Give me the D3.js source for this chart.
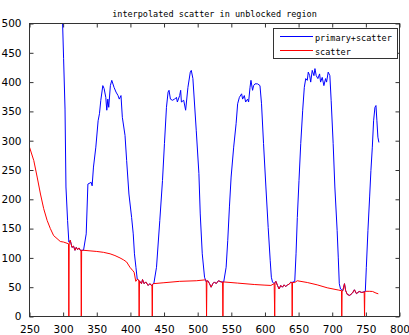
<!DOCTYPE html>
<html><head><meta charset="utf-8">
<script src="https://cdn.jsdelivr.net/npm/d3@7"></script>
<style>
html,body{margin:0;padding:0;background:#fff;}
svg{display:block;}
</style>
</head><body>
<svg id="chart" width="409" height="335"></svg>
<script>
// ---- data ----
const titleText = "interpolated scatter in unblocked region";
const seriesNames = ["primary+scatter", "scatter"];
const seriesColors = ["#0000ff", "#ff0000"];
const xTicks = [250,300,350,400,450,500,550,600,650,700,750,800];
const yTicks = [0,50,100,150,200,250,300,350,400,450,500];

const primaryX = [298.5,299.2,300.7,302.8,304.2,306.6,308.5,
 310.6,313.1,315.5,317.6,319.5,321.5,323.5,325.5,328.4,
 330.3,334.3,336.8,341.7,343.1,345.1,348.6,352,354,356,359,360.9,363.4,364.9,366.4,367.8,370.2,372.3,375.7,378.6,381.6,383.5,386,388,392,394.4,397.8,401.8,404.2,406,408.2,410.1,
 413,416.5,418,420.4,422.8,426.4,428.9,431.3,433.8,
 434.8,438.8,443.7,447.7,450.6,453.6,456,457.4,459.5,462.4,465.8,468.4,469.8,473.2,474.7,475.8,479.2,482.1,485.5,489,490.5,492.9,497.9,501.8,503.8,506.8,510.2,512.7,
 515.1,517.6,520,522.5,525,527.4,530.9,534.8,537,
 538.7,542.3,544.7,547.2,549.7,553.5,557.1,559.4,562,565.3,566.8,569.3,571.3,574.2,575.7,577.8,579.2,581.6,583.1,585.2,589,592.6,594.9,597.9,601.4,604.8,607.8,609.5,611.2,613.7,
 616.2,618.6,621,623.5,626,628.5,630.9,633.4,635.9,638.3,640,
 644.3,646.2,648.1,650.6,653.2,656.1,658.5,660.6,662.9,664.4,666.5,668,670.3,672.8,674.3,676.2,678.7,681.2,682.7,685.1,687.6,690.1,691.6,694,696.5,698.4,701.4,703.9,707.3,709,710.5,712.3,
 715.7,718.2,720,722.5,726,730,733,736,740,744,747,
 749.2,750.7,753.1,755.6,757.5,759.6,761.5,763.5,765,766.4,767.9,769.4];
const primaryY = [520,500,440,354,221,164,127,
 130,118,120,113,118,114,117,113,113,
 113,141,226,229,223,255,289,334,346,369,394,389,374,352,371,357,394,403,391,383,377,371,377,340,309,266,209,169,141,107,84,64,
 61,56,63,56,59,53,56,53,56,
 56,84,164,232,295,357,383,386,371,369,371,374,366,377,386,366,369,352,391,417,420,406,317,244,175,107,67,59,
 61,56,50,56,59,56,61,59,59,
 59,84,130,187,238,289,329,363,374,380,371,377,366,371,366,391,403,386,394,397,397,394,363,295,221,152,96,67,59,56,
 60,53,47,53,50,54,51,54,55,58.6,58,
 60,107,169,232,295,352,391,406,403,417,411,400,420,411,423,411,406,414,400,408,394,406,400,417,411,369,295,221,147,100,56,47,
 44,56,44,37.5,36,40,45.6,39,42.7,41,42,
 43,84,147,204,249,289,334,357,360,334,306,297];

const scatterX = [250,256.4,261.4,266.3,271.1,276.2,281,285.9,290.9,295.8,300.7,305.7,308,308.5,309,
 310.6,313.1,315.5,317.6,319.5,321.5,323.5,325.5,326.5,327,327.5,330.3,340,350,360,369.8,377,384.5,390,394.4,399.3,403,405.5,408,410.6,412.5,413,413.5,
 416.5,418,420.4,422.8,426.4,428.9,431.3,432,432.5,433,433.8,448.6,473.2,497.9,511.7,512.7,513.2,513.7,
 515.1,517.6,520,522.5,525,527.4,530.9,534.8,537,537.5,538,538.7,559.4,584.1,600,608.8,612,613.7,614.5,615,
 616.2,618.6,621,623.5,626,628.5,630.9,633.4,635.9,638.3,640,640.5,641,644.3,648,662.9,677.7,692.5,709.8,713.8,714.2,714.7,
 715.7,718.2,720,722.5,726,730,733,736,740,744,747.5,748,748.5,749.2,755,760,765,768.5];
const scatterY = [289,266,238,209,184,164,150,138,133,128,127,125,124,0,124,
 130,118,120,113,118,114,117,113,113,0,113,113,112,111,109.5,107,104,100,96.5,93,84,79,75.6,60,64,61,0,61,
 56,63,56,59,53,56,53,54,0,55,56,57.5,60,61,62.6,62,0,60,
 61,56,50,56,59,56,61,59,59,0,59,59,57,54.6,53.5,53,55,56,0,58,
 60,53,47,53,50,54,51,54,55,58.6,58,0,58,58,61,58,54,49,45,44,0,44,
 44,56,44,37.5,36,40,45.6,39,42.7,41,42,0,42,43,43,42.7,40,38.7];

// ---- chart ----
const svg = d3.select("#chart");
const L = 29.5, R = 399.5, T = 23.5, B = 316.5;
const x = d3.scaleLinear().domain([250, 800]).range([L, R]);
const y = d3.scaleLinear().domain([0, 500]).range([B, T]);

svg.append("defs").append("clipPath").attr("id", "clip")
  .append("rect").attr("x", L).attr("y", T).attr("width", R - L).attr("height", B - T);

const axisColor = "#333";
const tickFont = "'DejaVu Sans', sans-serif";

function styleAxis(g, showLabels) {
  g.select(".domain").remove();
  g.selectAll(".tick line").attr("stroke", axisColor);
  g.selectAll(".tick text").attr("fill", "#000").style("font-family", tickFont).style("font-size", "10.5px");
  if (!showLabels) g.selectAll(".tick text").remove();
}

svg.append("g").attr("transform", `translate(0,${B})`)
  .call(d3.axisBottom(x).tickValues(xTicks).tickFormat(d3.format("d")).tickSizeInner(-4).tickSizeOuter(0).tickPadding(9))
  .call(g => styleAxis(g, true));
svg.append("g").attr("transform", `translate(0,${T})`)
  .call(d3.axisTop(x).tickValues(xTicks).tickSizeInner(-4).tickSizeOuter(0))
  .call(g => styleAxis(g, false));
svg.append("g").attr("transform", `translate(${L},0)`)
  .call(d3.axisLeft(y).tickValues(yTicks).tickFormat(d3.format("d")).tickSizeInner(-4).tickSizeOuter(0).tickPadding(8))
  .call(g => styleAxis(g, true));
svg.append("g").attr("transform", `translate(${R},0)`)
  .call(d3.axisRight(y).tickValues(yTicks).tickSizeInner(-4).tickSizeOuter(0))
  .call(g => styleAxis(g, false));

const line = d3.line().x(d => x(d[0])).y(d => y(d[1]));
const series = [
  d3.zip(primaryX, primaryY),
  d3.zip(scatterX, scatterY)
];
const plot = svg.append("g").attr("clip-path", "url(#clip)");
series.forEach((s, i) => {
  plot.append("path").datum(s)
    .attr("fill", "none").attr("stroke", seriesColors[i]).attr("stroke-width", 1)
    .attr("d", line);
});

// box
svg.append("rect").attr("x", L).attr("y", T).attr("width", R - L).attr("height", B - T)
  .attr("fill", "none").attr("stroke", axisColor).attr("stroke-width", 1);

// title
svg.append("text").attr("x", (L + R) / 2).attr("y", 16.5)
  .attr("text-anchor", "middle")
  .style("font-family", "'DejaVu Sans Mono', monospace").style("font-size", "8.5px")
  .text(titleText);

// legend
const lg = svg.append("g");
lg.append("rect").attr("x", 273.5).attr("y", 28.5).attr("width", 124).attr("height", 30)
  .attr("fill", "#fff").attr("stroke", axisColor).attr("stroke-width", 1);
seriesNames.forEach((name, i) => {
  const yy = 36.5 + i * 14;
  lg.append("line").attr("x1", 280).attr("x2", 313).attr("y1", yy).attr("y2", yy)
    .attr("stroke", seriesColors[i]).attr("stroke-width", 1);
  lg.append("text").attr("x", 315).attr("y", yy + 4.5)
    .style("font-family", "'DejaVu Sans Mono', monospace").style("font-size", "8.5px")
    .text(name);
});
</script>
</body></html>
